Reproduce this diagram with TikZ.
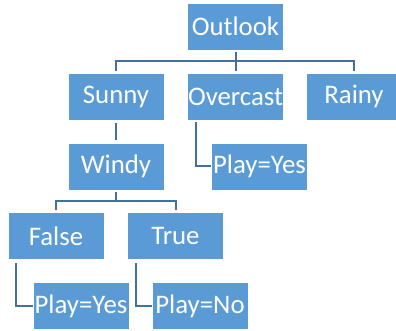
\documentclass[tikz,border=0pt]{standalone}
\usepackage{fontspec}
\setmainfont{Carlito}
\definecolor{boxblue}{HTML}{5B9BD5}
\definecolor{lineblue}{HTML}{41719C}
\begin{document}
\begin{tikzpicture}[x=1pt,y=-1pt,
  box/.style={fill=boxblue,draw=white,line width=0.6pt,minimum width=96pt,minimum height=47pt,inner sep=0pt,text=white,font=\fontsize{26.8}{30}\selectfont},
  conn/.style={draw=lineblue,line width=2pt}]
\useasboundingbox (0,0) rectangle (396,331);
\clip (0,0) rectangle (396,331);
\node[box] (O) at (235.5,26.5) {Outlook};
\node[box] (S) at (116,96.5) {Sunny};
\node[box] (Ov) at (235.5,96.5) {Overcast};
\node[box] (R) at (354,96.5) {Rainy};
\node[box] (W) at (116,166.5) {Windy};
\node[box] (PYo) at (259.5,166.5) {Play=Yes};
\node[box] (F) at (56,236) {False};
\node[box] (T) at (175.5,236) {True};
\node[box] (PY) at (81,306) {Play=Yes};
\node[box] (PN) at (200,306) {Play=No};
% Outlook children
\coordinate (ob) at ([yshift=-11pt]O.south);
\draw[conn] ([yshift=-2pt]O.south) -- ([yshift=2pt]Ov.north);
\draw[conn] ([yshift=2pt]S.north) |- (ob) -| ([yshift=2pt]R.north);
% Sunny - Windy
\draw[conn] ([yshift=-3pt]S.south) -- ([yshift=3pt]W.north);
% Overcast - Play
\draw[conn] ([xshift=-39.5pt,yshift=-2pt]Ov.south) |- (PYo.west);
% Windy children
\coordinate (wb) at ([yshift=-11pt]W.south);
\draw[conn] ([yshift=-2pt]W.south) -- (wb);
\draw[conn] ([yshift=2pt]F.north) |- (wb) -| ([yshift=2pt]T.north);
% leaves
\draw[conn] ([xshift=-40pt,yshift=-3pt]F.south) |- (PY.west);
\draw[conn] ([xshift=-39.5pt,yshift=-3pt]T.south) |- (PN.west);
\end{tikzpicture}
\end{document}
